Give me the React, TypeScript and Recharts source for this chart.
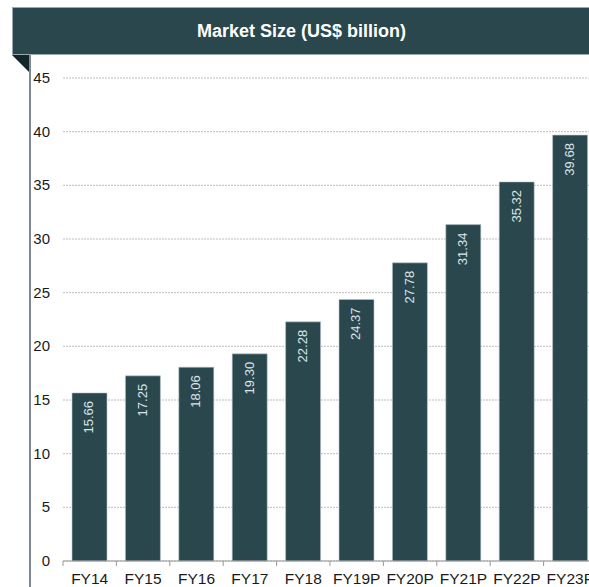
import { BarChart, Bar, XAxis, YAxis, CartesianGrid, LabelList } from "recharts";

const YEARS = ["FY14", "FY15", "FY16", "FY17", "FY18", "FY19P", "FY20P", "FY21P", "FY22P", "FY23P"];
const MARKET_SIZE = [15.66, 17.25, 18.06, 19.3, 22.28, 24.37, 27.78, 31.34, 35.32, 39.68];
const Y_TICKS = [0, 5, 10, 15, 20, 25, 30, 35, 40, 45];

const data = YEARS.map((year, i) => ({ year, value: MARKET_SIZE[i] }));

const BAR_COLOR = "#2a474e";
const FONT = "'Liberation Sans', Arial, sans-serif";
const CHART_W = 600;
const PLOT_LEFT = 63;
const PLOT_RIGHT = 3;
const BAND = (CHART_W - PLOT_LEFT - PLOT_RIGHT) / YEARS.length;

// tick mark sits on the category boundary, label on the center
function XTick(props: any) {
  const { x, y, payload } = props;
  const bx = x - BAND / 2;
  return (
    <g>
      <line x1={bx} y1={y - 8} x2={bx} y2={y - 3} stroke="#999" strokeWidth={1} />
      <text x={x} y={y + 15} textAnchor="middle" fontSize={15.5} fill="#1a1a1a" fontFamily={FONT}>
        {payload.value}
      </text>
    </g>
  );
}

function YTick(props: any) {
  const { y, payload } = props;
  return (
    <text x={50} y={y + 5} textAnchor="end" fontSize={15} fill="#1a1a1a" fontFamily={FONT}>
      {payload.value}
    </text>
  );
}

function ValueLabel(props: any) {
  const { x, y, width, value } = props;
  const cx = x + width / 2 + 4;
  const ty = y + 8;
  return (
    <text
      x={cx}
      y={ty}
      transform={`rotate(-90 ${cx} ${ty})`}
      textAnchor="end"
      fontSize={13}
      fill="#dbe5ea"
      fontFamily={FONT}
    >
      {Number(value).toFixed(2)}
    </text>
  );
}

export default function App() {
  return (
    <div
      style={{
        position: "fixed",
        left: 0,
        top: 0,
        width: 589,
        height: 587,
        overflow: "hidden",
        background: "#fff",
        fontFamily: FONT,
      }}
    >
      {/* title banner */}
      <div
        style={{
          position: "absolute",
          left: 12,
          top: 7,
          width: 590,
          height: 48,
          background: "#2a474e",
          borderTop: "1px solid #9aa9ad",
          borderLeft: "1px solid #9aa9ad",
          borderBottom: "1.5px solid #9aa9ad",
          color: "#fff",
          fontWeight: "bold",
          fontSize: 18,
          lineHeight: "46px",
          boxSizing: "border-box",
        }}
      >
        <span style={{ position: "absolute", left: 184 }}>Market Size (US$ billion)</span>
      </div>
      {/* folded corner */}
      <div
        style={{
          position: "absolute",
          left: 12,
          top: 55,
          width: 0,
          height: 0,
          borderTop: "18px solid #13262b",
          borderLeft: "18px solid transparent",
        }}
      />
      {/* left rule */}
      <div
        style={{
          position: "absolute",
          left: 29,
          top: 55,
          width: 1.5,
          height: 540,
          background: "#7d8b8f",
        }}
      />
      <div style={{ position: "absolute", left: 0, top: 0 }}>
        <BarChart
          width={CHART_W}
          height={587}
          data={data}
          margin={{ top: 78, right: PLOT_RIGHT, bottom: 0, left: 0 }}
          barSize={35}
        >
          <CartesianGrid vertical={false} stroke="#bdbdbd" strokeDasharray="2 1" />
          <XAxis
            dataKey="year"
            height={26}
            axisLine={{ stroke: "#999" }}
            tickLine={false}
            tick={<XTick />}
            interval={0}
          />
          <YAxis
            width={PLOT_LEFT}
            domain={[0, 45]}
            ticks={Y_TICKS}
            axisLine={false}
            tickLine={false}
            tick={<YTick />}
            interval={0}
          />
          <Bar dataKey="value" fill={BAR_COLOR} stroke="#b9c6ca" strokeWidth={0.6} isAnimationActive={false}>
            <LabelList dataKey="value" content={<ValueLabel />} />
          </Bar>
        </BarChart>
      </div>
    </div>
  );
}
